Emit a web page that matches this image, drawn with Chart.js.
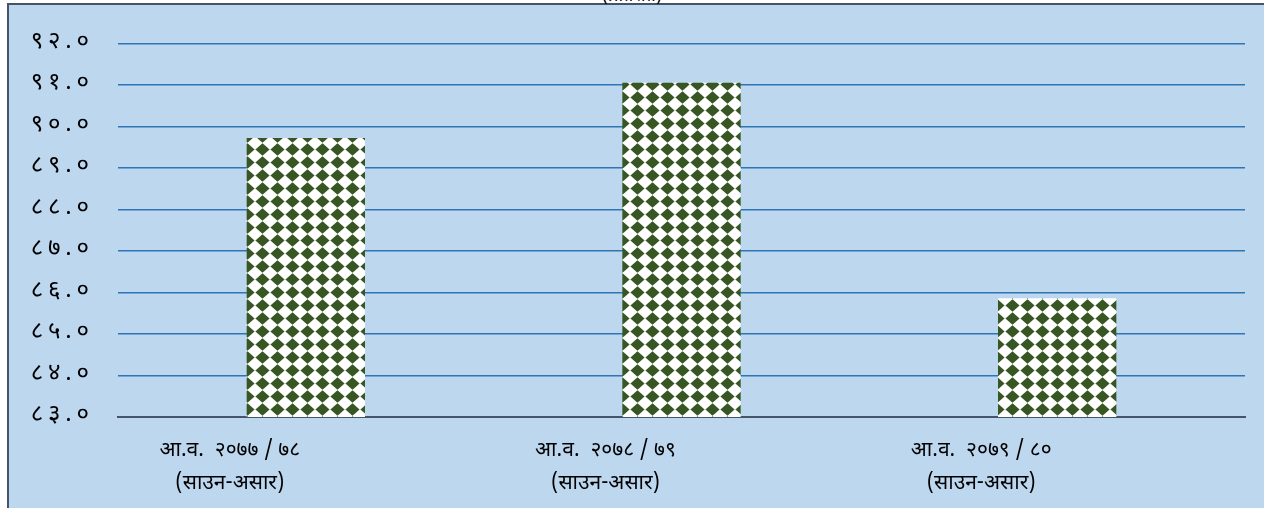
<!DOCTYPE html>
<html>
<head>
<meta charset="utf-8">
<script src="https://cdn.jsdelivr.net/npm/chart.js@4.4.1/dist/chart.umd.min.js"></script>
<style>
  html, body { margin: 0; padding: 0; background: #fff; overflow: hidden; }
  #wrap { position: relative; width: 1264px; height: 508px; }
  #panel {
    position: absolute; left: 7px; top: 3px; width: 1300px; height: 520px;
    background: #BDD7EE; border-left: 2px solid #44546A; border-top: 2px solid #44546A;
  }
  #title {
    position: absolute; left: 0; width: 1264px; top: -15px; text-align: center;
    font: 18px "Noto Sans Devanagari", "Lohit Devanagari", "Noto Sans", sans-serif; color: #000;
  }
  #chart { position: absolute; left: 0; top: 0; }
</style>
</head>
<body>
<div id="wrap">
  <div id="panel"></div>
  <div id="title">(प्रतिशत)</div>
  <canvas id="chart" width="1264" height="508"></canvas>
</div>
<script>
// ── Data ────────────────────────────────────────────────────────────────────
const fiscalYears = ['आ.व.  २०७७ / ७८', 'आ.व.  २०७८ / ७९', 'आ.व.  २०७९ / ८०'];
const periodLabel = '(साउन-असार)';
const shareValues = [89.72, 91.05, 85.86];
const yMin = 83;
const yMax = 92;

const FONT = '"Noto Sans Devanagari", "Lohit Devanagari", "Noto Sans", sans-serif';

// Western digits -> Devanagari digits, spaced out a little like the original font
function toNepaliDigits(str) {
    const digits = '०१२३४५६७८९';
    return String(str).replace(/[0-9]/g, d => digits[+d]).split('').join('\u2009');
}

// diamond fill like the office chart pattern
function makeDiamondPattern() {
    const tile = document.createElement('canvas');
    tile.width = 15;
    tile.height = 13;
    const t = tile.getContext('2d');
    t.fillStyle = '#ffffff';
    t.fillRect(0, 0, 15, 13);
    t.fillStyle = '#375623';
    t.beginPath();
    t.moveTo(7.5, 0.2);
    t.lineTo(14.6, 6.5);
    t.lineTo(7.5, 12.8);
    t.lineTo(0.4, 6.5);
    t.closePath();
    t.fill();
    return document.getElementById('chart').getContext('2d').createPattern(tile, 'repeat');
}

const ctx = document.getElementById('chart').getContext('2d');
const pattern = makeDiamondPattern();

new Chart(ctx, {
    type: 'bar',
    data: {
        labels: fiscalYears.map(fy => [fy, periodLabel]),
        datasets: [{
            data: shareValues,
            backgroundColor: pattern,
            borderWidth: 0,
            barPercentage: 0.315,
            categoryPercentage: 1
        }]
    },
    options: {
        responsive: false,
        animation: false,
        layout: { padding: { left: 8, right: 19, top: 42, bottom: 0 } },
        plugins: {
            legend: { display: false },
            tooltip: { enabled: false }
        },
        scales: {
            y: {
                min: yMin,
                max: yMax,
                ticks: {
                    stepSize: 1,
                    padding: 29,
                    color: '#000',
                    font: { family: FONT, size: 24 },
                    callback: v => toNepaliDigits(Number(v).toFixed(1))
                },
                grid: {
                    drawTicks: false,
                    lineWidth: 1.5,
                    color: c => c.tick && c.tick.value === yMin ? 'rgba(0,0,0,0)' : '#2E75B6'
                },
                border: { display: false },
                afterFit: scale => { scale.width = 110; }
            },
            x: {
                ticks: {
                    padding: 19,
                    labelOffset: -76,
                    color: '#000',
                    maxRotation: 0,
                    autoSkip: false,
                    font: { family: FONT, size: 21, lineHeight: 1.55 }
                },
                grid: { display: false, drawTicks: false },
                border: { display: true, color: '#44546A', width: 2 },
                afterFit: scale => { scale.height = 91; }
            }
        }
    }
});
</script>
</body>
</html>
